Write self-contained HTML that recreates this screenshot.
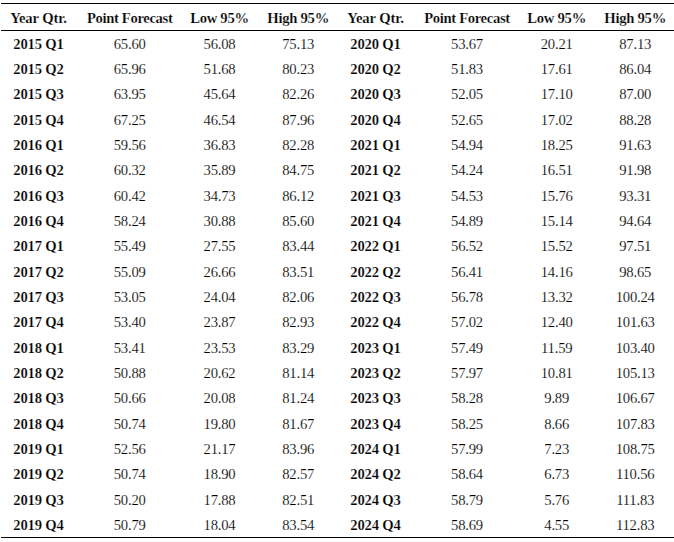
<!DOCTYPE html><html><head><meta charset="utf-8"><style>
html,body{margin:0;padding:0;background:#fff;}
body{width:674px;height:542px;position:relative;overflow:hidden;font-family:"Liberation Serif",serif;color:#000;}
.c{position:absolute;text-align:center;white-space:nowrap;font-size:14.67px;line-height:20px;height:20px;}
.b{font-weight:bold;-webkit-text-stroke:0.2px #fff;}
.h0{letter-spacing:-0.12px}.h1{letter-spacing:-0.35px}.h2{letter-spacing:-0.28px}.h3{letter-spacing:-0.28px}
.yq{letter-spacing:-0.2px}
.n{color:#000;letter-spacing:-0.2px;-webkit-text-stroke:0.15px #fff;}
.l{position:absolute;background:#000;height:1px;}
</style></head><body>

<div class="l" style="top:3px;left:1px;width:673px"></div>
<div class="l" style="top:30px;left:1px;width:673px"></div>
<div class="l" style="top:537px;left:1px;width:673px"></div>
<div class="c b h0" style="top:8px;left:-61.5px;width:200px">Year Qtr.</div>
<div class="c b h1" style="top:8px;left:29.7px;width:200px">Point Forecast</div>
<div class="c b h2" style="top:8px;left:119.5px;width:200px">Low 95%</div>
<div class="c b h3" style="top:8px;left:198.2px;width:200px">High 95%</div>
<div class="c b h0" style="top:8px;left:275.5px;width:200px">Year Qtr.</div>
<div class="c b h1" style="top:8px;left:367px;width:200px">Point Forecast</div>
<div class="c b h2" style="top:8px;left:456.7px;width:200px">Low 95%</div>
<div class="c b h3" style="top:8px;left:535.2px;width:200px">High 95%</div>
<div class="c b yq" style="top:34.00px;left:-61.5px;width:200px">2015 Q1</div>
<div class="c n" style="top:34.00px;left:29.7px;width:200px">65.60</div>
<div class="c n" style="top:34.00px;left:119.5px;width:200px">56.08</div>
<div class="c n" style="top:34.00px;left:198.2px;width:200px">75.13</div>
<div class="c b yq" style="top:34.00px;left:275.5px;width:200px">2020 Q1</div>
<div class="c n" style="top:34.00px;left:367px;width:200px">53.67</div>
<div class="c n" style="top:34.00px;left:456.7px;width:200px">20.21</div>
<div class="c n" style="top:34.00px;left:535.2px;width:200px">87.13</div>
<div class="c b yq" style="top:59.00px;left:-61.5px;width:200px">2015 Q2</div>
<div class="c n" style="top:59.00px;left:29.7px;width:200px">65.96</div>
<div class="c n" style="top:59.00px;left:119.5px;width:200px">51.68</div>
<div class="c n" style="top:59.00px;left:198.2px;width:200px">80.23</div>
<div class="c b yq" style="top:59.00px;left:275.5px;width:200px">2020 Q2</div>
<div class="c n" style="top:59.00px;left:367px;width:200px">51.83</div>
<div class="c n" style="top:59.00px;left:456.7px;width:200px">17.61</div>
<div class="c n" style="top:59.00px;left:535.2px;width:200px">86.04</div>
<div class="c b yq" style="top:84.00px;left:-61.5px;width:200px">2015 Q3</div>
<div class="c n" style="top:84.00px;left:29.7px;width:200px">63.95</div>
<div class="c n" style="top:84.00px;left:119.5px;width:200px">45.64</div>
<div class="c n" style="top:84.00px;left:198.2px;width:200px">82.26</div>
<div class="c b yq" style="top:84.00px;left:275.5px;width:200px">2020 Q3</div>
<div class="c n" style="top:84.00px;left:367px;width:200px">52.05</div>
<div class="c n" style="top:84.00px;left:456.7px;width:200px">17.10</div>
<div class="c n" style="top:84.00px;left:535.2px;width:200px">87.00</div>
<div class="c b yq" style="top:110.00px;left:-61.5px;width:200px">2015 Q4</div>
<div class="c n" style="top:110.00px;left:29.7px;width:200px">67.25</div>
<div class="c n" style="top:110.00px;left:119.5px;width:200px">46.54</div>
<div class="c n" style="top:110.00px;left:198.2px;width:200px">87.96</div>
<div class="c b yq" style="top:110.00px;left:275.5px;width:200px">2020 Q4</div>
<div class="c n" style="top:110.00px;left:367px;width:200px">52.65</div>
<div class="c n" style="top:110.00px;left:456.7px;width:200px">17.02</div>
<div class="c n" style="top:110.00px;left:535.2px;width:200px">88.28</div>
<div class="c b yq" style="top:135.00px;left:-61.5px;width:200px">2016 Q1</div>
<div class="c n" style="top:135.00px;left:29.7px;width:200px">59.56</div>
<div class="c n" style="top:135.00px;left:119.5px;width:200px">36.83</div>
<div class="c n" style="top:135.00px;left:198.2px;width:200px">82.28</div>
<div class="c b yq" style="top:135.00px;left:275.5px;width:200px">2021 Q1</div>
<div class="c n" style="top:135.00px;left:367px;width:200px">54.94</div>
<div class="c n" style="top:135.00px;left:456.7px;width:200px">18.25</div>
<div class="c n" style="top:135.00px;left:535.2px;width:200px">91.63</div>
<div class="c b yq" style="top:160.00px;left:-61.5px;width:200px">2016 Q2</div>
<div class="c n" style="top:160.00px;left:29.7px;width:200px">60.32</div>
<div class="c n" style="top:160.00px;left:119.5px;width:200px">35.89</div>
<div class="c n" style="top:160.00px;left:198.2px;width:200px">84.75</div>
<div class="c b yq" style="top:160.00px;left:275.5px;width:200px">2021 Q2</div>
<div class="c n" style="top:160.00px;left:367px;width:200px">54.24</div>
<div class="c n" style="top:160.00px;left:456.7px;width:200px">16.51</div>
<div class="c n" style="top:160.00px;left:535.2px;width:200px">91.98</div>
<div class="c b yq" style="top:186.00px;left:-61.5px;width:200px">2016 Q3</div>
<div class="c n" style="top:186.00px;left:29.7px;width:200px">60.42</div>
<div class="c n" style="top:186.00px;left:119.5px;width:200px">34.73</div>
<div class="c n" style="top:186.00px;left:198.2px;width:200px">86.12</div>
<div class="c b yq" style="top:186.00px;left:275.5px;width:200px">2021 Q3</div>
<div class="c n" style="top:186.00px;left:367px;width:200px">54.53</div>
<div class="c n" style="top:186.00px;left:456.7px;width:200px">15.76</div>
<div class="c n" style="top:186.00px;left:535.2px;width:200px">93.31</div>
<div class="c b yq" style="top:211.00px;left:-61.5px;width:200px">2016 Q4</div>
<div class="c n" style="top:211.00px;left:29.7px;width:200px">58.24</div>
<div class="c n" style="top:211.00px;left:119.5px;width:200px">30.88</div>
<div class="c n" style="top:211.00px;left:198.2px;width:200px">85.60</div>
<div class="c b yq" style="top:211.00px;left:275.5px;width:200px">2021 Q4</div>
<div class="c n" style="top:211.00px;left:367px;width:200px">54.89</div>
<div class="c n" style="top:211.00px;left:456.7px;width:200px">15.14</div>
<div class="c n" style="top:211.00px;left:535.2px;width:200px">94.64</div>
<div class="c b yq" style="top:236.00px;left:-61.5px;width:200px">2017 Q1</div>
<div class="c n" style="top:236.00px;left:29.7px;width:200px">55.49</div>
<div class="c n" style="top:236.00px;left:119.5px;width:200px">27.55</div>
<div class="c n" style="top:236.00px;left:198.2px;width:200px">83.44</div>
<div class="c b yq" style="top:236.00px;left:275.5px;width:200px">2022 Q1</div>
<div class="c n" style="top:236.00px;left:367px;width:200px">56.52</div>
<div class="c n" style="top:236.00px;left:456.7px;width:200px">15.52</div>
<div class="c n" style="top:236.00px;left:535.2px;width:200px">97.51</div>
<div class="c b yq" style="top:262.00px;left:-61.5px;width:200px">2017 Q2</div>
<div class="c n" style="top:262.00px;left:29.7px;width:200px">55.09</div>
<div class="c n" style="top:262.00px;left:119.5px;width:200px">26.66</div>
<div class="c n" style="top:262.00px;left:198.2px;width:200px">83.51</div>
<div class="c b yq" style="top:262.00px;left:275.5px;width:200px">2022 Q2</div>
<div class="c n" style="top:262.00px;left:367px;width:200px">56.41</div>
<div class="c n" style="top:262.00px;left:456.7px;width:200px">14.16</div>
<div class="c n" style="top:262.00px;left:535.2px;width:200px">98.65</div>
<div class="c b yq" style="top:287.00px;left:-61.5px;width:200px">2017 Q3</div>
<div class="c n" style="top:287.00px;left:29.7px;width:200px">53.05</div>
<div class="c n" style="top:287.00px;left:119.5px;width:200px">24.04</div>
<div class="c n" style="top:287.00px;left:198.2px;width:200px">82.06</div>
<div class="c b yq" style="top:287.00px;left:275.5px;width:200px">2022 Q3</div>
<div class="c n" style="top:287.00px;left:367px;width:200px">56.78</div>
<div class="c n" style="top:287.00px;left:456.7px;width:200px">13.32</div>
<div class="c n" style="top:287.00px;left:535.2px;width:200px">100.24</div>
<div class="c b yq" style="top:312.00px;left:-61.5px;width:200px">2017 Q4</div>
<div class="c n" style="top:312.00px;left:29.7px;width:200px">53.40</div>
<div class="c n" style="top:312.00px;left:119.5px;width:200px">23.87</div>
<div class="c n" style="top:312.00px;left:198.2px;width:200px">82.93</div>
<div class="c b yq" style="top:312.00px;left:275.5px;width:200px">2022 Q4</div>
<div class="c n" style="top:312.00px;left:367px;width:200px">57.02</div>
<div class="c n" style="top:312.00px;left:456.7px;width:200px">12.40</div>
<div class="c n" style="top:312.00px;left:535.2px;width:200px">101.63</div>
<div class="c b yq" style="top:338.00px;left:-61.5px;width:200px">2018 Q1</div>
<div class="c n" style="top:338.00px;left:29.7px;width:200px">53.41</div>
<div class="c n" style="top:338.00px;left:119.5px;width:200px">23.53</div>
<div class="c n" style="top:338.00px;left:198.2px;width:200px">83.29</div>
<div class="c b yq" style="top:338.00px;left:275.5px;width:200px">2023 Q1</div>
<div class="c n" style="top:338.00px;left:367px;width:200px">57.49</div>
<div class="c n" style="top:338.00px;left:456.7px;width:200px">11.59</div>
<div class="c n" style="top:338.00px;left:535.2px;width:200px">103.40</div>
<div class="c b yq" style="top:363.00px;left:-61.5px;width:200px">2018 Q2</div>
<div class="c n" style="top:363.00px;left:29.7px;width:200px">50.88</div>
<div class="c n" style="top:363.00px;left:119.5px;width:200px">20.62</div>
<div class="c n" style="top:363.00px;left:198.2px;width:200px">81.14</div>
<div class="c b yq" style="top:363.00px;left:275.5px;width:200px">2023 Q2</div>
<div class="c n" style="top:363.00px;left:367px;width:200px">57.97</div>
<div class="c n" style="top:363.00px;left:456.7px;width:200px">10.81</div>
<div class="c n" style="top:363.00px;left:535.2px;width:200px">105.13</div>
<div class="c b yq" style="top:388.00px;left:-61.5px;width:200px">2018 Q3</div>
<div class="c n" style="top:388.00px;left:29.7px;width:200px">50.66</div>
<div class="c n" style="top:388.00px;left:119.5px;width:200px">20.08</div>
<div class="c n" style="top:388.00px;left:198.2px;width:200px">81.24</div>
<div class="c b yq" style="top:388.00px;left:275.5px;width:200px">2023 Q3</div>
<div class="c n" style="top:388.00px;left:367px;width:200px">58.28</div>
<div class="c n" style="top:388.00px;left:456.7px;width:200px">9.89</div>
<div class="c n" style="top:388.00px;left:535.2px;width:200px">106.67</div>
<div class="c b yq" style="top:414.00px;left:-61.5px;width:200px">2018 Q4</div>
<div class="c n" style="top:414.00px;left:29.7px;width:200px">50.74</div>
<div class="c n" style="top:414.00px;left:119.5px;width:200px">19.80</div>
<div class="c n" style="top:414.00px;left:198.2px;width:200px">81.67</div>
<div class="c b yq" style="top:414.00px;left:275.5px;width:200px">2023 Q4</div>
<div class="c n" style="top:414.00px;left:367px;width:200px">58.25</div>
<div class="c n" style="top:414.00px;left:456.7px;width:200px">8.66</div>
<div class="c n" style="top:414.00px;left:535.2px;width:200px">107.83</div>
<div class="c b yq" style="top:439.00px;left:-61.5px;width:200px">2019 Q1</div>
<div class="c n" style="top:439.00px;left:29.7px;width:200px">52.56</div>
<div class="c n" style="top:439.00px;left:119.5px;width:200px">21.17</div>
<div class="c n" style="top:439.00px;left:198.2px;width:200px">83.96</div>
<div class="c b yq" style="top:439.00px;left:275.5px;width:200px">2024 Q1</div>
<div class="c n" style="top:439.00px;left:367px;width:200px">57.99</div>
<div class="c n" style="top:439.00px;left:456.7px;width:200px">7.23</div>
<div class="c n" style="top:439.00px;left:535.2px;width:200px">108.75</div>
<div class="c b yq" style="top:464.00px;left:-61.5px;width:200px">2019 Q2</div>
<div class="c n" style="top:464.00px;left:29.7px;width:200px">50.74</div>
<div class="c n" style="top:464.00px;left:119.5px;width:200px">18.90</div>
<div class="c n" style="top:464.00px;left:198.2px;width:200px">82.57</div>
<div class="c b yq" style="top:464.00px;left:275.5px;width:200px">2024 Q2</div>
<div class="c n" style="top:464.00px;left:367px;width:200px">58.64</div>
<div class="c n" style="top:464.00px;left:456.7px;width:200px">6.73</div>
<div class="c n" style="top:464.00px;left:535.2px;width:200px">110.56</div>
<div class="c b yq" style="top:490.00px;left:-61.5px;width:200px">2019 Q3</div>
<div class="c n" style="top:490.00px;left:29.7px;width:200px">50.20</div>
<div class="c n" style="top:490.00px;left:119.5px;width:200px">17.88</div>
<div class="c n" style="top:490.00px;left:198.2px;width:200px">82.51</div>
<div class="c b yq" style="top:490.00px;left:275.5px;width:200px">2024 Q3</div>
<div class="c n" style="top:490.00px;left:367px;width:200px">58.79</div>
<div class="c n" style="top:490.00px;left:456.7px;width:200px">5.76</div>
<div class="c n" style="top:490.00px;left:535.2px;width:200px">111.83</div>
<div class="c b yq" style="top:515.00px;left:-61.5px;width:200px">2019 Q4</div>
<div class="c n" style="top:515.00px;left:29.7px;width:200px">50.79</div>
<div class="c n" style="top:515.00px;left:119.5px;width:200px">18.04</div>
<div class="c n" style="top:515.00px;left:198.2px;width:200px">83.54</div>
<div class="c b yq" style="top:515.00px;left:275.5px;width:200px">2024 Q4</div>
<div class="c n" style="top:515.00px;left:367px;width:200px">58.69</div>
<div class="c n" style="top:515.00px;left:456.7px;width:200px">4.55</div>
<div class="c n" style="top:515.00px;left:535.2px;width:200px">112.83</div>
</body></html>
